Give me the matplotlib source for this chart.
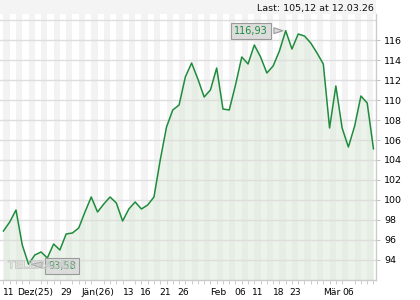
import matplotlib
matplotlib.use("Agg")
import matplotlib.pyplot as plt
import matplotlib.patheffects as pe
from matplotlib.patches import Rectangle
import numpy as np

# closing prices, 10.12.25 .. 12.03.26 (one per trading day)
prices = [96.9, 97.8, 99.0, 95.5, 93.58, 94.5, 94.8, 94.2, 95.6, 95.0,
          96.6, 96.7, 97.2, 98.8, 100.3, 98.8, 99.6, 100.3, 99.7, 97.9,
          99.1, 99.8, 99.1, 99.5, 100.3, 104.0, 107.3, 109.0, 109.5, 112.3,
          113.7, 112.1, 110.3, 111.0, 113.2, 109.1, 109.0, 111.5, 114.3, 113.6,
          115.5, 114.3, 112.7, 113.4, 114.9, 116.93, 115.1, 116.6, 116.4, 115.7,
          114.7, 113.6, 107.2, 111.4, 107.2, 105.3, 107.4, 110.4, 109.7, 105.12]

xtick_pos = [0.9, 5.0, 10, 15, 20, 22.7, 25.8, 28.6, 34.2, 37.8, 40.5, 43.9, 46.5, 52.4, 55]
xtick_labels = ["11", "Dez(25)", "29", "Jän(26)", "13", "16", "21", "26",
                "Feb", "06", "11", "18", "23", "Mär", "06"]
yticks = [94, 96, 98, 100, 102, 104, 106, 108, 110, 112, 114, 116]

last_text = "Last: 105,12 at 12.03.26"
green = "#1e8c3c"

x = np.arange(len(prices))
y = np.array(prices)

fig = plt.figure(figsize=(4.2, 3.0), dpi=100)
ax = fig.add_axes([0.0, 0.0667, 0.8952, 0.8866])
ax.set_xlim(-0.55, len(prices) - 0.6)
ax.set_ylim(92, 118.6)

# top strip
fig.patches.append(Rectangle((0, 0.9533), 0.8952, 0.05, transform=fig.transFigure,
                             facecolor="#f4f4f4", edgecolor="none", zorder=0))

# alternating day stripes
for i in range(0, len(prices), 2):
    ax.axvspan(i, i + 1, color="#f3f3f3", lw=0, zorder=0)

ax.fill_between(x, y, 92, color="#dbe8d6", alpha=0.5, lw=0, zorder=1)
for v in yticks + [118]:
    ax.axhline(v, color="#dedede", lw=1, zorder=2)
ax.plot(x, y, color=green, lw=1.1, zorder=3)

# max / min labels
imax, imin = int(np.argmax(y)), int(np.argmin(y))
box = dict(boxstyle="square,pad=0.3", fc="#dcdcdc", ec="#9a9a9a", lw=0.8)
arrow = dict(arrowstyle="wedge,tail_width=0.6,shrink_factor=0.5", fc="#dcdcdc", ec="#9a9a9a", lw=0.8)
ax.annotate(f"{y[imax]:.2f}".replace(".", ","), xy=(imax, y[imax]), xytext=(-25, 0),
            textcoords="offset points", ha="center", va="center", fontsize=7,
            color=green, bbox=box, arrowprops=arrow, zorder=5)
ax.annotate(f"{y[imin]:.2f}".replace(".", ","), xy=(imin, y[imin]), xytext=(24, -1.5),
            textcoords="offset points", ha="center", va="center", fontsize=7,
            color=green, bbox=box, arrowprops=arrow, zorder=5)

# outlined watermark, drawn over the min label like in the original
ax.text(0.021, 0.055, "TELERADER", transform=ax.transAxes, ha="left", va="center",
        fontsize=8, color=(1, 1, 1, 0), family="Liberation Sans", fontweight="bold",
        path_effects=[pe.Stroke(linewidth=0.6, foreground="#c6c6c6"), pe.Normal()],
        zorder=6)

ax.yaxis.tick_right()
ax.set_yticks(yticks)
ax.set_xticks(xtick_pos)
ax.set_xticklabels(xtick_labels)
ax.set_xticks(x, minor=True)
ax.tick_params(axis="x", which="both", length=3, color="#c4c4c4", labelsize=6.6, pad=3)
ax.tick_params(axis="x", which="major", length=0, pad=6)
ax.tick_params(axis="y", length=3, color="#c4c4c4", labelsize=6.8, pad=3)
for s in ["top", "left"]:
    ax.spines[s].set_visible(False)
for s in ["right", "bottom"]:
    ax.spines[s].set_color("#cccccc")
    ax.spines[s].set_linewidth(1)

fig.text(0.89, 0.973, last_text, ha="right", va="center", fontsize=6.8, color="#111111")

fig.savefig("out.png", dpi=100)
